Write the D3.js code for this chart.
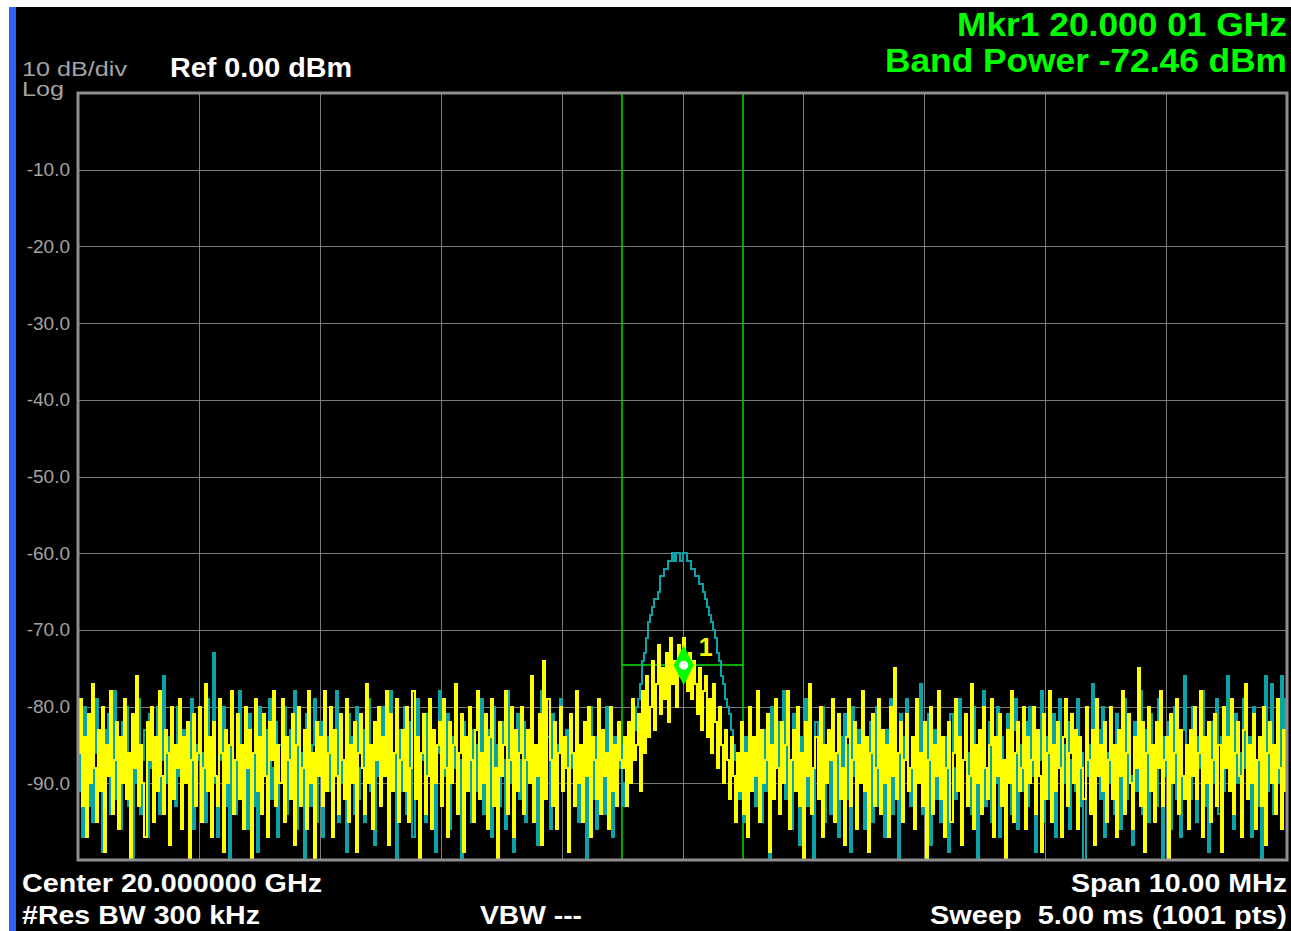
<!DOCTYPE html>
<html>
<head>
<meta charset="utf-8">
<script src="https://cdn.jsdelivr.net/npm/d3@7"></script>
<style>
  html, body { margin: 0; padding: 0; background: #fff; }
  svg { display: block; }
</style>
</head>
<body>
<svg id="chart" width="1291" height="931"></svg>
<script>
// analyzer settings
const centerGHz = 20.0;
const spanGHz = 0.01;
const refLevel = 0;
const bottomLevel = -100;
const yTickLevels = [-10, -20, -30, -40, -50, -60, -70, -80, -90];
const xDivisions = [-5, -4, -3, -2, -1, 0, 1, 2, 3, 4, 5]; // MHz from center
const bandHalfWidthMHz = 0.5;
const markerFreqGHz = 20.00001;
const markerLevel = -74.6;

// trace 1 (yellow), dBm: 270 points below the band, 61 in it, 270 above (601 total)
const yellowBelow = [
  -86,-79,-93,-84,-97,-81,-90,-77,-88,-95,-83,-91,-80,-99,-85,-89,-78,-94,-87,-82,
  -96,-84,-90,-79,-92,-86,-101,-81,-88,-76,-93,-85,-90,-97,-82,-87,-80,-95,-84,-91,
  -78,-89,-94,-83,-86,-98,-80,-92,-85,-88,-79,-96,-84,-90,-82,-103,-87,-81,-93,-86,
  -80,-95,-88,-77,-91,-84,-97,-82,-89,-93,-79,-86,-99,-83,-90,-85,-78,-94,-87,-81,
  -92,-85,-96,-80,-88,-83,-100,-86,-79,-91,-84,-94,-81,-89,-97,-82,-87,-78,-93,-85,
  -90,-79,-95,-84,-87,-92,-81,-98,-85,-80,-93,-88,-83,-96,-78,-90,-86,-101,-82,-89,
  -84,-93,-78,-91,-86,-80,-97,-83,-89,-94,-81,-87,-92,-79,-95,-85,-90,-82,-99,-86,
  -81,-88,-94,-77,-90,-85,-96,-82,-87,-80,-93,-84,-89,-78,-98,-81,-91,-86,-79,-95,
  -87,-83,-91,-80,-95,-88,-78,-92,-84,-100,-86,-81,-94,-89,-79,-96,-83,-90,-85,-82,
  -93,-79,-88,-97,-82,-90,-85,-77,-94,-86,-81,-99,-84,-91,-80,-87,-95,-83,-78,-92,
  -86,-90,-81,-96,-84,-79,-93,-88,-102,-82,-89,-85,-78,-94,-87,-80,-97,-83,-91,-86,
  -80,-94,-87,-83,-90,-76,-95,-85,-89,-81,-98,-74,-92,-79,-87,-93,-82,-96,-86,-80,
  -91,-84,-88,-99,-81,-86,-93,-78,-90,-85,-95,-82,-89,-80,-97,-84,-87,-92,-79,-94,
  -83,-89,-86,-96,-80,-91,-85,-93,-82,-87
];
const yellowBand = [
  -88,-84,-93,-82,-90,-79,-87,-85,-81,-91,
  -78,-86,-76,-84,-80,-74,-83,-77,-72,-81,
  -75,-79,-73,-82,-71,-77,-74,-80,-72,-76,
  -71,-75,-78,-73,-79,-74,-77,-81,-75,-83,
  -78,-76,-84,-79,-86,-77,-82,-88,-80,-85,
  -90,-83,-87,-92,-84,-89,-95,-86,-91,-82,
  -94
];
const yellowAbove = [
  -86,-97,-80,-91,-84,-89,-78,-95,-83,-90,-87,-81,-99,-85,-92,-79,-88,-94,-82,-90,
  -85,-78,-96,-87,-83,-91,-80,-93,-86,-101,-82,-89,-77,-94,-88,-84,-92,-80,-97,-85,
  -90,-83,-87,-79,-95,-86,-81,-92,-88,-98,-84,-79,-93,-87,-82,-96,-85,-90,-78,-91,
  -84,-99,-86,-81,-93,-88,-79,-94,-83,-90,-85,-97,-80,-89,-75,-92,-86,-82,-95,-87,
  -81,-91,-88,-84,-96,-79,-90,-86,-93,-82,-100,-87,-80,-94,-85,-89,-78,-92,-84,-97,
  -88,-82,-95,-86,-79,-91,-84,-98,-87,-81,-93,-89,-77,-96,-85,-90,-83,-94,-80,-88,
  -92,-85,-79,-97,-84,-89,-81,-93,-87,-102,-83,-90,-78,-95,-86,-82,-91,-88,-80,-96,
  -84,-90,-87,-80,-94,-83,-89,-99,-81,-92,-86,-78,-95,-85,-91,-82,-88,-97,-84,-79,
  -93,-86,-81,-90,-83,-96,-84,-88,-92,-80,-87,-94,-83,-98,-79,-89,-85,-91,-82,-95,
  -87,-80,-92,-85,-97,-83,-89,-78,-94,-86,-81,-90,-96,-84,-88,-75,-93,-82,-99,-86,
  -80,-91,-85,-95,-82,-88,-78,-93,-87,-84,-100,-81,-90,-86,-79,-94,-83,-89,-92,-85,
  -96,-83,-89,-80,-92,-86,-78,-97,-84,-90,-82,-95,-87,-81,-93,-85,-99,-80,-88,-84,
  -91,-79,-94,-86,-82,-89,-97,-83,-77,-92,-85,-90,-81,-96,-87,-84,-93,-80,-98,-86,
  -82,-90,-85,-94,-79,-88,-96,-83,-91,-77
];

// trace 2 (teal), dBm, same layout
const tealBelow = [
  -91,-84,-97,-80,-88,-93,-82,-95,-86,-79,-90,-85,-99,-83,-89,-81,-94,-87,-78,-92,
  -85,-96,-82,-89,-80,-93,-86,-101,-84,-90,-79,-94,-87,-83,-97,-81,-88,-92,-85,-80,
  -94,-87,-76,-90,-84,-98,-82,-86,-93,-80,-89,-95,-83,-84,-88,-91,-79,-96,-85,-87,
  -81,-92,-86,-95,-79,-88,-84,-73,-90,-97,-83,-87,-80,-93,-85,-100,-82,-89,-94,-86,
  -78,-91,-85,-88,-96,-81,-87,-93,-84,-99,-80,-90,-86,-83,-95,-79,-92,-88,-82,-97,
  -85,-89,-80,-94,-87,-83,-91,-78,-96,-84,-90,-86,-102,-81,-88,-93,-85,-79,-95,-87,
  -82,-97,-88,-84,-91,-80,-93,-86,-78,-95,-83,-90,-87,-99,-81,-89,-84,-94,-80,-92,
  -88,-83,-95,-86,-79,-91,-85,-98,-82,-89,-93,-80,-87,-84,-96,-78,-90,-86,-100,-83,
  -91,-86,-80,-94,-88,-82,-97,-85,-79,-92,-87,-83,-95,-81,-89,-90,-84,-99,-86,-78,
  -93,-85,-89,-81,-96,-84,-88,-79,-94,-87,-101,-82,-90,-86,-80,-95,-83,-91,-85,-88,
  -79,-94,-86,-91,-83,-97,-80,-89,-85,-93,-82,-87,-96,-78,-90,-84,-99,-86,-81,-92,
  -87,-82,-95,-85,-89,-80,-93,-86,-98,-83,-78,-91,-88,-84,-96,-81,-90,-94,-85,-79,
  -90,-86,-83,-97,-81,-88,-93,-79,-95,-85,-89,-82,-100,-87,-80,-92,-84,-96,-86,-91,
  -83,-94,-80,-89,-86,-97,-84,-91,-88,-85
];
const tealBand = [
  -93,-90,-91,
  -88,-86,-84,-83,-80,-79,-77,-74,-73,-71,
  -69,-68,-67,-66,-66,-65,-63,-63,-62,-62,
  -61,-61,-60,-61,-60,-60,-61,-60,-60,-61,
  -61,-62,-62,-63,-63,-64,-64,-65,-66,-67,
  -68,-69,-70,-71,-73,-74,-76,-77,-79,-80,
  -81,-83,-85,-87,-89,
  -92,-86,-95
];
const tealAbove = [
  -84,-97,-81,-90,-86,-93,-79,-88,-95,-83,-91,-85,-100,-80,-89,-87,-82,-94,-86,-78,
  -92,-85,-89,-96,-81,-87,-83,-98,-84,-90,-79,-93,-86,-88,-101,-82,-91,-85,-80,-95,
  -87,-83,-94,-79,-90,-86,-97,-84,-88,-81,-92,-85,-99,-80,-89,-93,-83,-87,-78,-96,
  -86,-91,-82,-95,-88,-80,-93,-85,-90,-97,-83,-87,-79,-94,-86,-89,-100,-81,-92,-84,
  -79,-88,-93,-86,-96,-82,-90,-77,-94,-85,-89,-81,-98,-87,-83,-92,-80,-95,-86,-90,
  -84,-99,-81,-88,-92,-85,-79,-96,-87,-83,-91,-86,-94,-80,-89,-102,-84,-90,-78,-93,
  -88,-82,-95,-86,-90,-80,-97,-84,-89,-92,-81,-87,-94,-83,-79,-96,-85,-91,-88,-82,
  -93,-80,-89,-85,-99,-83,-87,-78,-95,-90,-84,-92,-86,-81,-97,-88,-79,-94,-85,-90,
  -82,-96,-87,-84,-91,-79,-93,-86,-100,-81,-89,-85,-77,-95,-88,-83,-92,-80,-97,-86,
  -90,-84,-88,-94,-81,-87,-96,-83,-79,-92,-86,-89,-98,-82,-91,-85,-78,-94,-87,-83,
  -95,-81,-90,-86,-93,-79,-88,-101,-84,-89,-82,-96,-87,-80,-92,-85,-97,-83,-76,-90,
  -86,-92,-80,-89,-95,-84,-88,-78,-93,-85,-99,-82,-90,-87,-79,-94,-84,-91,-86,-76,
  -89,-83,-96,-81,-90,-86,-94,-79,-88,-92,-84,-97,-80,-87,-93,-85,-100,-82,-76,-91,
  -85,-77,-94,-88,-82,-90,-76,-87,-79,-84
];

const yellowTrace = yellowBelow.concat(yellowBand, yellowAbove);
const tealTrace = tealBelow.concat(tealBand, tealAbove);

const YELLOW = "#ffff00";
const TEAL = "#0aa3a8";
const GREEN = "#00ff00";
const GRID = "#7c7c7c";
const LABEL_GRAY = "#a4a4a4";
const FONT = "'Liberation Sans', Arial, sans-serif";

const svg = d3.select("#chart");

// screen background
svg.append("rect").attr("width", 1291).attr("height", 931).attr("fill", "#fff");
svg.append("rect").attr("x", 16).attr("y", 7).attr("width", 1275).attr("height", 924).attr("fill", "#000");
svg.append("rect").attr("x", 9).attr("y", 7).attr("width", 7).attr("height", 924).attr("fill", "#2f62f5");

const plot = { left: 78, top: 93, right: 1287, bottom: 860 };

const startGHz = centerGHz - spanGHz / 2;
const stopGHz = centerGHz + spanGHz / 2;

const x = d3.scaleLinear().domain([startGHz, stopGHz]).range([plot.left, plot.right]);
const y = d3.scaleLinear().domain([bottomLevel, refLevel]).range([plot.bottom, plot.top]);

// grid
const grid = svg.append("g").attr("shape-rendering", "crispEdges");
grid.selectAll("line.h")
  .data(yTickLevels)
  .join("line")
  .attr("x1", plot.left).attr("x2", plot.right)
  .attr("y1", d => Math.round(y(d)) + 0.5).attr("y2", d => Math.round(y(d)) + 0.5)
  .attr("stroke", GRID).attr("stroke-width", 1);
grid.selectAll("line.v")
  .data(xDivisions.slice(1, -1))
  .join("line")
  .attr("y1", plot.top).attr("y2", plot.bottom)
  .attr("x1", d => Math.round(x(centerGHz + d / 1000)) + 0.5)
  .attr("x2", d => Math.round(x(centerGHz + d / 1000)) + 0.5)
  .attr("stroke", GRID).attr("stroke-width", 1);

// y axis labels
const yAxis = d3.axisLeft(y).tickValues(yTickLevels).tickSize(0).tickPadding(8).tickFormat(d => d.toFixed(1));
const yAxisG = svg.append("g").attr("transform", `translate(${plot.left},0)`).call(yAxis);
yAxisG.select(".domain").remove();
yAxisG.selectAll("text")
  .attr("fill", LABEL_GRAY)
  .attr("font-family", FONT)
  .attr("font-size", 19);

// band power markers
const bandLeft = x(centerGHz - bandHalfWidthMHz / 1000);
const bandRight = x(centerGHz + bandHalfWidthMHz / 1000);
const band = svg.append("g");
band.selectAll("line.edge")
  .data([bandLeft, bandRight])
  .join("line")
  .attr("x1", d => Math.round(d)).attr("x2", d => Math.round(d))
  .attr("y1", plot.top).attr("y2", plot.bottom)
  .attr("stroke", "#00dc00").attr("stroke-width", 1.5);
band.append("line")
  .attr("x1", bandLeft).attr("x2", bandRight)
  .attr("y1", Math.round(y(markerLevel))).attr("y2", Math.round(y(markerLevel)))
  .attr("stroke", "#00e600").attr("stroke-width", 1.5);

// traces: sample points snapped to whole pixels so the 2px strokes stay solid
svg.append("clipPath").attr("id", "clip")
  .append("rect")
  .attr("x", plot.left).attr("y", plot.top)
  .attr("width", plot.right - plot.left).attr("height", plot.bottom - plot.top);

const freqAt = (i, n) => startGHz + (i * spanGHz) / (n - 1);
const traceLine = d3.line()
  .x((d, i, arr) => Math.round(x(freqAt(i, arr.length))))
  .y(d => Math.round(y(Math.max(d, bottomLevel - 3))))
  .curve(d3.curveStepAfter);

const traces = svg.append("g").attr("clip-path", "url(#clip)");
traces.append("path")
  .attr("d", traceLine(tealTrace))
  .attr("fill", "none").attr("stroke", TEAL).attr("stroke-width", 2);
traces.append("path")
  .attr("d", traceLine(yellowTrace))
  .attr("fill", "none").attr("stroke", YELLOW).attr("stroke-width", 2);

// frame
svg.append("rect")
  .attr("x", plot.left).attr("y", plot.top)
  .attr("width", plot.right - plot.left).attr("height", plot.bottom - plot.top)
  .attr("fill", "none").attr("stroke", "#8e8e8e").attr("stroke-width", 3);

// marker 1
const mx = x(markerFreqGHz), my = y(markerLevel);
svg.append("path")
  .attr("d", `M${mx},${my - 20}L${mx + 10},${my}L${mx},${my + 20}L${mx - 10},${my}Z`)
  .attr("fill", GREEN);
svg.append("circle").attr("cx", mx).attr("cy", my).attr("r", 4.5).attr("fill", "#fff");
svg.append("text")
  .attr("x", mx + 15).attr("y", my - 9)
  .attr("fill", YELLOW).attr("font-family", FONT).attr("font-weight", "bold").attr("font-size", 25)
  .text("1");

// annotations, stretched to the widths the instrument font gives
const label = (tx, ty, str, opts = {}) => {
  const t = svg.append("text")
    .attr("x", tx).attr("y", ty)
    .attr("fill", opts.color || "#fff")
    .attr("font-family", FONT)
    .attr("font-weight", opts.weight || "bold")
    .attr("font-size", opts.size || 27)
    .attr("text-anchor", opts.anchor || "start")
    .style("white-space", "pre")
    .text(str);
  if (opts.width) t.attr("textLength", opts.width).attr("lengthAdjust", "spacingAndGlyphs");
  return t;
};

label(22, 76, "10 dB/div", { color: LABEL_GRAY, weight: "normal", size: 20, width: 105 });
label(22, 96, "Log", { color: LABEL_GRAY, weight: "normal", size: 20, width: 42 });
label(170, 77, "Ref 0.00 dBm", { size: 27, width: 182 });

label(1287, 36, "Mkr1 20.000 01 GHz", { color: GREEN, size: 33, anchor: "end", width: 330 });
label(1287, 72, "Band Power -72.46 dBm", { color: GREEN, size: 33, anchor: "end", width: 402 });

label(22, 892, "Center 20.000000 GHz", { size: 26, width: 300 });
label(22, 924, "#Res BW 300 kHz", { size: 26, width: 238 });
label(480, 924, "VBW ---", { size: 26, width: 102 });
label(1287, 892, "Span 10.00 MHz", { size: 26, anchor: "end", width: 216 });
label(1287, 924, "Sweep  5.00 ms (1001 pts)", { size: 26, anchor: "end", width: 357 });
</script>
</body>
</html>
